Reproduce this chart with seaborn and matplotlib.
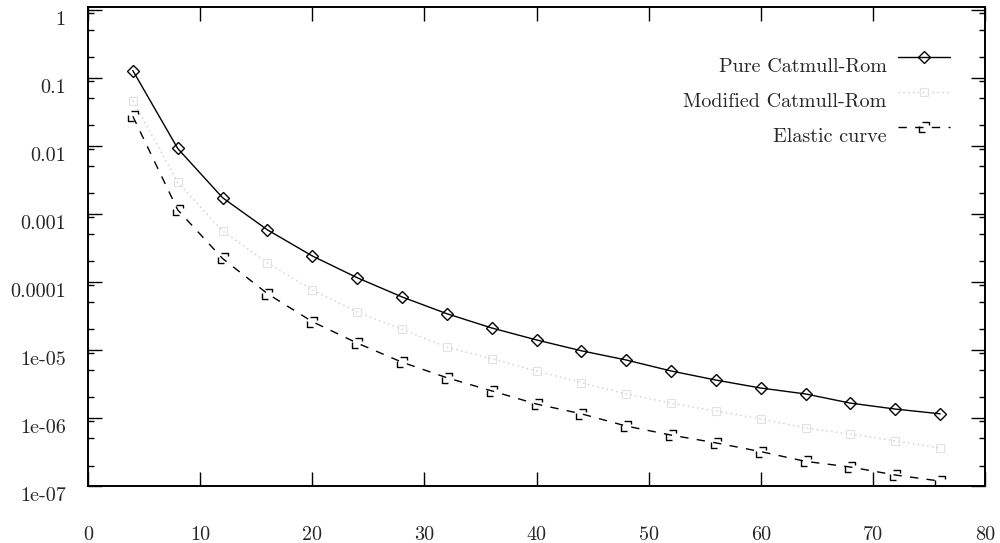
import seaborn as sns
import matplotlib.pyplot as plt
import matplotlib.transforms as mtransforms
from matplotlib.path import Path
from matplotlib.ticker import LogLocator, NullFormatter, FixedLocator
from matplotlib.legend_handler import HandlerLine2D

import pandas as pd
import numpy as np

# values
n_points = [4, 8, 12, 16, 20, 24, 28, 32, 36, 40, 44, 48, 52, 56, 60, 64, 68, 72, 76]

pure_cr = [0.127, 0.0091, 0.00172, 5.8e-4, 2.4e-4, 1.15e-4, 6.0e-5, 3.4e-5, 2.1e-5, 1.4e-5,
           9.7e-6, 7.1e-6, 4.9e-6, 3.6e-6, 2.75e-6, 2.25e-6, 1.65e-6, 1.35e-6, 1.15e-6]
modified_cr = [0.046, 0.0029, 5.6e-4, 1.9e-4, 7.6e-5, 3.6e-5, 2.0e-5, 1.1e-5, 7.4e-6, 4.9e-6,
               3.3e-6, 2.25e-6, 1.65e-6, 1.26e-6, 9.7e-7, 7.1e-7, 5.8e-7, 4.6e-7, 3.6e-7]
elastic = [0.027, 0.00114, 2.2e-4, 6.7e-5, 2.6e-5, 1.26e-5, 6.6e-6, 3.9e-6, 2.5e-6, 1.6e-6,
           1.15e-6, 7.6e-7, 5.6e-7, 4.3e-7, 3.2e-7, 2.3e-7, 1.9e-7, 1.45e-7, 1.18e-7]

labels = ['Pure Catmull-Rom', 'Modified Catmull-Rom', 'Elastic curve']

x_ticks = [0, 10, 20, 30, 40, 50, 60, 70, 80]
y_ticks = [1e-7, 1e-6, 1e-5, 1e-4, 1e-3, 1e-2, 1e-1, 1]
y_ticklabels = ['1e-07', '1e-06', '1e-05', '0.0001', '0.001', '0.01', '0.1', '1']

df = pd.DataFrame({'n': n_points, labels[0]: pure_cr, labels[1]: modified_cr, labels[2]: elastic})

sns.set_style('ticks')
plt.rcParams['font.family'] = ['cmr10', 'DejaVu Serif']
plt.rcParams['axes.unicode_minus'] = False
FS = 14.5


class RaisedLine(HandlerLine2D):
    # legend samples sit ~8px above the text line in the reference
    def create_artists(self, legend, orig_handle, xdescent, ydescent, width, height,
                       fontsize, trans):
        trans = mtransforms.Affine2D().translate(0, 5.8) + trans
        return super().create_artists(legend, orig_handle, xdescent, ydescent, width,
                                      height, fontsize, trans)


# gnuplot draws the point symbol with the dash pattern, so the square is broken
broken_square = Path(
    [(-0.3, 1), (1, 1), (1, 0.45), (-1, 0.2), (-1, -1), (0.15, -1)],
    [Path.MOVETO, Path.LINETO, Path.LINETO, Path.MOVETO, Path.LINETO, Path.LINETO])

fig = plt.figure(figsize=(10, 5.43), dpi=100)
ax = fig.add_axes([0.088, 1 - 486 / 543, 0.897, 479 / 543])

sns.lineplot(data=df, x='n', y=labels[0], ax=ax, color='black', lw=1.0,
             marker='D', markersize=6.5, markerfacecolor='none', markeredgecolor='black',
             markeredgewidth=1.0, label=labels[0])
sns.lineplot(data=df, x='n', y=labels[1], ax=ax, color='#cccccc', lw=1.0,
             linestyle=(0, (1, 2.5)), marker='s', markersize=5.5, markerfacecolor='none',
             markeredgecolor='#e2e2e2', markeredgewidth=0.8, label=labels[1])
sns.lineplot(data=df, x='n', y=labels[2], ax=ax, color='black', lw=1.0,
             linestyle=(0, (6, 6)), marker=broken_square, markersize=7.5,
             markerfacecolor='none', markeredgecolor='black', markeredgewidth=1.0,
             label=labels[2])

ax.set_yscale('log')
ax.set_xlim(0, 80)
ax.set_ylim(1e-7, 1.09)
ax.set_xlabel('')
ax.set_ylabel('')

ax.xaxis.set_major_locator(FixedLocator(x_ticks))
ax.set_xticklabels([str(t) for t in x_ticks], fontsize=FS)
ax.yaxis.set_major_locator(FixedLocator(y_ticks))
ax.set_yticklabels(y_ticklabels, fontsize=FS)
ax.yaxis.set_minor_locator(LogLocator(base=10, subs=[2, 5, 9], numticks=20))
ax.yaxis.set_minor_formatter(NullFormatter())

ax.tick_params(axis='both', which='major', direction='in', length=10, width=1.0,
               top=True, right=True, color='black')
ax.tick_params(axis='y', which='minor', direction='in', length=4.5, width=1.0,
               left=True, right=True, color='black')
ax.tick_params(axis='x', which='major', pad=28.5)
ax.tick_params(axis='y', which='major', pad=16)

# tick labels sit a little below their ticks in the reference
shift = mtransforms.ScaledTranslation(0, -8 / 100, fig.dpi_scale_trans)
for lab in ax.get_yticklabels():
    lab.set_transform(lab.get_transform() + shift)

for s in ax.spines.values():
    s.set_linewidth(1.4)
    s.set_color('black')

leg = ax.legend(loc='upper right', bbox_to_anchor=(0.961, 0.894), frameon=False,
                markerfirst=False, fontsize=FS, handlelength=2.6, handletextpad=0.55,
                labelspacing=0.85, borderpad=0, borderaxespad=0, numpoints=1,
                handler_map={plt.Line2D: RaisedLine(numpoints=1)})

fig.savefig('out.png', dpi=100)
